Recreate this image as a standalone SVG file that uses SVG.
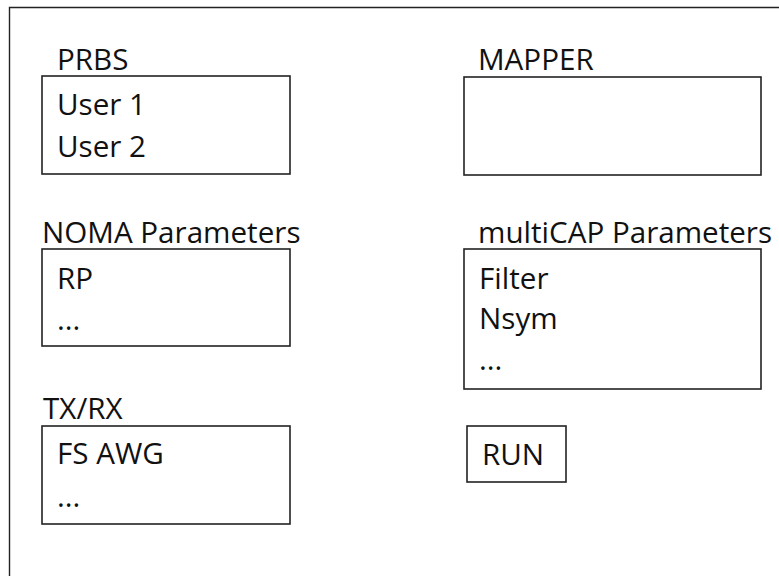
<svg xmlns="http://www.w3.org/2000/svg" width="779" height="576" viewBox="0 0 779 576">
  <style>
    .frame { fill: none; stroke: #222; stroke-width: 1.4; }
    .box { fill: #fff; stroke: #222; stroke-width: 1.6; }
    text { font-family: "Open Sans", "Noto Sans", "Liberation Sans", sans-serif; font-size: 29.6px; fill: #111; }
  </style>
  <rect width="779" height="576" fill="#fff"/>
  <!-- outer frame, open on the right and bottom -->
  <path class="frame" d="M779 7.5 H9.5 V576"/>

  <g id="prbs">
    <text x="57" y="70">PRBS</text>
    <rect class="box" x="42" y="76" width="248" height="98"/>
    <text x="57" y="115">User 1</text>
    <text x="57" y="157">User 2</text>
  </g>

  <g id="mapper">
    <text x="478" y="70">MAPPER</text>
    <rect class="box" x="464" y="77" width="297" height="98"/>
  </g>

  <g id="noma">
    <text x="42" y="243">NOMA Parameters</text>
    <rect class="box" x="42" y="249" width="248" height="97"/>
    <text x="57" y="289">RP</text>
    <text x="57" y="330">...</text>
  </g>

  <g id="multicap">
    <text x="478" y="243">multiCAP Parameters</text>
    <rect class="box" x="464" y="249" width="297" height="140"/>
    <text x="479" y="289">Filter</text>
    <text x="479" y="329">Nsym</text>
    <text x="479" y="370">...</text>
  </g>

  <g id="txrx">
    <text x="43" y="419">TX/RX</text>
    <rect class="box" x="42" y="426" width="248" height="98"/>
    <text x="57" y="464">FS AWG</text>
    <text x="57" y="507">...</text>
  </g>

  <g id="run">
    <rect class="box" x="467" y="426" width="99" height="56"/>
    <text x="482" y="465">RUN</text>
  </g>

  <g id="connectors"/>
</svg>
